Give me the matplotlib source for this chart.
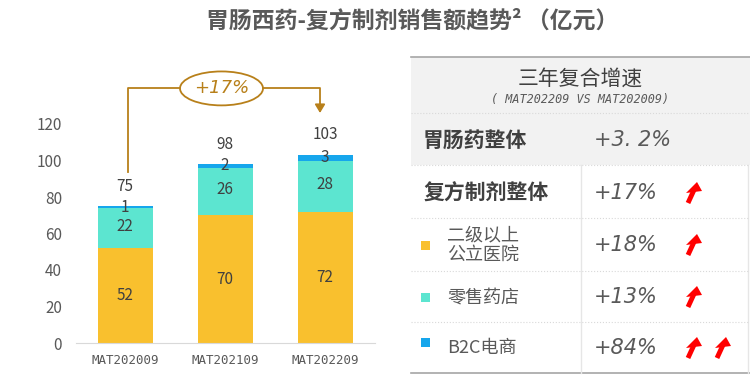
import matplotlib.pyplot as plt
from matplotlib.patches import Ellipse, Rectangle, Polygon

plt.rcParams['font.family'] = ['Noto Sans CJK SC', 'DejaVu Sans']

# bar chart data (亿元)
periods = ['MAT202009', 'MAT202109', 'MAT202209']
hospital = [52, 70, 72]
retail = [22, 26, 28]
b2c = [1, 2, 3]
totals = [75, 98, 103]
growth_label = '+17%'

# right-hand table
table_labels = ['胃肠药整体', '复方制剂整体', '二级以上\n公立医院', '零售药店', 'B2C电商']
table_values = ['+3. 2%', '+17%', '+18%', '+13%', '+84%']
table_arrows = [0, 1, 1, 1, 2]

c_hosp = '#F9C02E'
c_retail = '#5CE5D0'
c_b2c = '#16A6EC'
row_colors = [None, None, c_hosp, c_retail, c_b2c]
txt = '#404040'
gold = '#B8801A'

fig = plt.figure(figsize=(7.5, 3.91), dpi=100)
ax = fig.add_axes([76 / 750, 48 / 391, 299 / 750, 255.5 / 391])

x = range(len(periods))
w = 0.55
ax.bar(x, hospital, w, color=c_hosp)
ax.bar(x, retail, w, bottom=hospital, color=c_retail)
bot2 = [h + r for h, r in zip(hospital, retail)]
ax.bar(x, b2c, w, bottom=bot2, color=c_b2c)

for i in x:
    ax.text(i, hospital[i] / 2, str(hospital[i]), ha='center', va='center', fontsize=11, color=txt)
    ax.text(i, hospital[i] + retail[i] / 2 + 1, str(retail[i]), ha='center', va='center', fontsize=11, color=txt)
    ax.text(i, bot2[i] + b2c[i] / 2, str(b2c[i]), ha='center', va='center', fontsize=11, color=txt)
    ax.text(i, totals[i] + 11, str(totals[i]), ha='center', va='center', fontsize=11, color=txt)

ax.set_xlim(-0.49, 2.5)
ax.set_ylim(0, 140)
ax.set_yticks(range(0, 121, 20))
ax.set_xticks(list(x))
ax.set_xticklabels(periods, family='DejaVu Sans Mono', fontsize=9, color='#595959')
ax.tick_params(axis='y', labelsize=11, colors='#595959', length=0, pad=10)
ax.tick_params(axis='x', length=0, pad=8)
for s in ['left', 'right', 'top']:
    ax.spines[s].set_visible(False)
ax.spines['bottom'].set_color('#D9D9D9')

# growth annotation bracket
ax.plot([0.03, 0.03, 0.55], [93.5, 139.5, 139.5], color=gold, lw=1.3, clip_on=False)
ax.plot([1.38, 1.95, 1.95], [139.5, 139.5, 129], color=gold, lw=1.3, clip_on=False)
ax.annotate('', xy=(1.95, 124.5), xytext=(1.95, 130),
            arrowprops=dict(arrowstyle='-|>,head_width=0.3,head_length=0.5', color=gold, lw=1.3),
            annotation_clip=False)
ax.add_patch(Ellipse((0.965, 139.5), 0.83, 18.6, fill=False, ec=gold, lw=1.3, clip_on=False))
ax.text(0.965, 139.5, growth_label, ha='center', va='center', fontsize=13, style='italic',
        color=gold, family='DejaVu Sans', clip_on=False)

fig.text(412 / 750, 1 - 21 / 391, '胃肠西药-复方制剂销售额趋势² （亿元）', ha='center', va='center',
         fontsize=16.5, fontweight='bold', color='#595959')

# table drawn in pixel coordinates
tb = fig.add_axes([0, 0, 1, 1])
tb.set_xlim(0, 750)
tb.set_ylim(391, 0)
tb.axis('off')

tb.add_patch(Rectangle((411, 57), 339, 108, color='#F2F2F2', lw=0))
tb.plot([411, 750], [57, 57], color='#A6A6A6', lw=1.2)
tb.plot([411, 750], [373, 373], color='#A6A6A6', lw=1.2)
tb.plot([581, 581], [165, 373], color='#E6E6E6', lw=1)
tb.plot([748, 748], [165, 373], color='#E6E6E6', lw=1)
for yy in [113, 165, 218, 271, 322]:
    tb.plot([411, 750], [yy, yy], color='#D9D9D9', lw=0.8, ls=':')

tb.text(580, 79, '三年复合增速', ha='center', va='center', fontsize=15, color=txt)
tb.text(580, 100, '( MAT202209 VS MAT202009)', ha='center', va='center', fontsize=8.5,
        style='italic', color='#595959', family='DejaVu Sans Mono')

row_y = [140, 193, 245, 297, 348]
for i, lab in enumerate(table_labels):
    yy = row_y[i]
    if row_colors[i] is None:
        tb.text(423, yy, lab, ha='left', va='center', fontsize=15, fontweight='bold', color=txt)
    else:
        sq_y = yy if i < 4 else yy - 6
        tb.add_patch(Rectangle((421, sq_y - 4), 9, 9, color=row_colors[i], lw=0))
        tb.text(447, yy, lab, ha='left', va='center', fontsize=13, color='#595959', linespacing=1.1)
    tb.text(594, yy, table_values[i], ha='left', va='center', fontsize=15, style='italic',
            color='#595959', family='DejaVu Sans')
    for k in range(table_arrows[i]):
        # slanted up-arrow: tip at (tx, ty)
        tx = 697 + 29 * k
        ty = yy - 11
        tb.plot([tx - 3, tx - 9], [ty + 8, ty + 21], color='#FF0000', lw=3.5,
                solid_capstyle='butt')
        tb.add_patch(Polygon([(tx, ty), (tx - 11, ty + 11), (tx + 5, ty + 9)],
                             closed=True, color='#FF0000', lw=0))

fig.savefig('out.png', dpi=100)
